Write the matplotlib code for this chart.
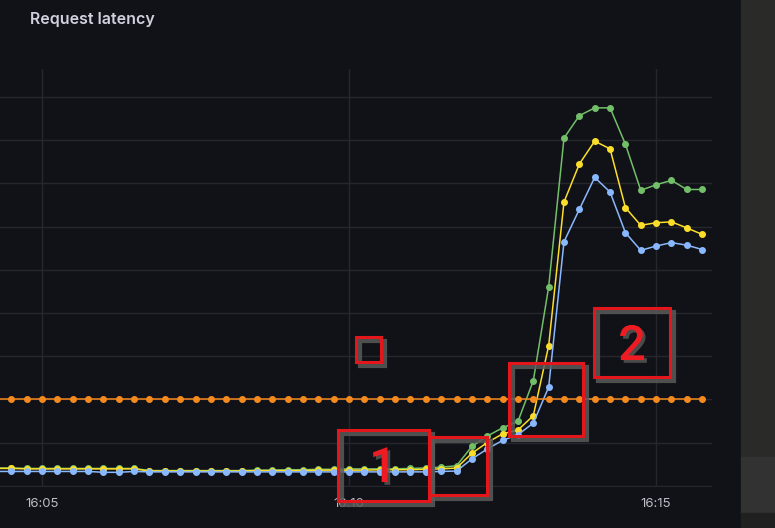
import matplotlib.pyplot as plt
from matplotlib.patches import Rectangle
import matplotlib.patheffects as pe
import numpy as np

# time in minutes after 16:00, one sample every 15 s (16:04:15 .. 16:15:45)
minutes = [4.25 + 0.25 * i for i in range(47)]

green = [0.41,
         0.41, 0.40, 0.40, 0.40, 0.40, 0.40, 0.40, 0.40, 0.40,
         0.35, 0.35, 0.35, 0.35, 0.35, 0.35, 0.35, 0.36, 0.36, 0.37, 0.37,
         0.38, 0.38, 0.39, 0.39, 0.39, 0.39, 0.40, 0.41, 0.43, 0.46,
         0.91, 1.15, 1.34, 1.49, 2.43, 4.60, 8.05, 8.57, 8.75, 8.75,
         7.91, 6.84, 6.97, 7.07, 6.86, 6.86]
yellow = [0.40,
          0.40, 0.39, 0.39, 0.39, 0.39, 0.39, 0.39, 0.39, 0.39,
          0.34, 0.34, 0.34, 0.34, 0.34, 0.34, 0.34, 0.35, 0.35, 0.35, 0.35,
          0.36, 0.36, 0.36, 0.36, 0.37, 0.37, 0.37, 0.38, 0.39, 0.41,
          0.75, 1.00, 1.20, 1.29, 1.62, 3.24, 6.57, 7.45, 7.98, 7.80,
          6.44, 6.03, 6.09, 6.11, 5.97, 5.82]
blue = [0.33,
        0.33, 0.33, 0.33, 0.33, 0.33, 0.33, 0.31, 0.31, 0.33,
        0.32, 0.32, 0.32, 0.32, 0.32, 0.32, 0.32, 0.32, 0.32, 0.32, 0.32,
        0.32, 0.32, 0.32, 0.32, 0.32, 0.32, 0.32, 0.32, 0.33, 0.34,
        0.62, 0.85, 1.05, 1.18, 1.45, 2.28, 5.65, 6.40, 7.14, 6.80,
        5.86, 5.45, 5.55, 5.63, 5.57, 5.47]
threshold = [2.0] * 47

tick_pos = [5, 10, 15]
tick_labels = ['16:05', '16:10', '16:15']

# screenshot annotations (pixel boxes: x0, y0, x1, y1 from top-left)
boxes = [(356, 337, 381, 362),
         (338, 430, 429, 501),
         (429, 437, 487, 495),
         (509, 363, 583, 436),
         (594, 308, 670, 377)]
labels = [('1', 383, 482), ('2', 632, 360)]

W, H = 775, 528
BG = '#111217'
GRID = '#26272c'

plt.rcParams['font.family'] = ['Inter', 'Roboto', 'DejaVu Sans']

fig = plt.figure(figsize=(W / 100, H / 100), dpi=100, facecolor=BG)


def fx(x):
    return x / W


def fy(y):
    return 1 - y / H


# right-hand neighbour panel
fig.patches.append(Rectangle((fx(741), fy(457)), fx(W - 741), 457 / H,
                             transform=fig.transFigure, color='#2a2a28', zorder=0))
fig.patches.append(Rectangle((fx(741), fy(513)), fx(W - 741), 56 / H,
                             transform=fig.transFigure, color='#323232', zorder=0))
fig.patches.append(Rectangle((fx(741), 0), fx(W - 741), 15 / H,
                             transform=fig.transFigure, color='#202020', zorder=0))

ax = fig.add_axes([0, fy(487), fx(712), (487 - 69) / H])
ax.set_facecolor(BG)

ax.plot(minutes, green, color='#73bf69', lw=1.1, marker='o', ms=4, zorder=3)
ax.plot(minutes, yellow, color='#fade2a', lw=1.1, marker='o', ms=4, zorder=4)
ax.plot(minutes, blue, color='#8ab8ff', lw=1.1, marker='o', ms=4, zorder=5)
ax.plot(minutes, threshold, color='#f58a1f', lw=1.1, marker='o', ms=4, zorder=6)

ax.set_xlim(4.316, 15.91)
ax.set_ylim(-0.03, 9.65)
ax.set_xticks(tick_pos)
ax.set_xticklabels(tick_labels)
ax.set_yticks(np.arange(0, 10, 1))
ax.tick_params(axis='x', length=0, pad=8, labelsize=9.5, labelcolor='#bcbdc6')
ax.tick_params(axis='y', length=0, labelleft=False)
ax.grid(True, color=GRID, lw=1)
ax.set_axisbelow(True)
for s in ax.spines.values():
    s.set_visible(False)

fig.text(fx(30), fy(24), 'Request latency', color='#d0d1dc', fontsize=11.5,
         fontweight='semibold', ha='left', va='baseline')

# red annotation boxes with a grey drop shadow
for x0, y0, x1, y1 in boxes:
    fig.patches.append(Rectangle((fx(x0 + 4), fy(y1 + 4)), fx(x1 - x0), (y1 - y0) / H,
                                 transform=fig.transFigure, fill=False,
                                 edgecolor='#5a5a5a', lw=3, alpha=0.85, zorder=20))
    fig.patches.append(Rectangle((fx(x0), fy(y1)), fx(x1 - x0), (y1 - y0) / H,
                                 transform=fig.transFigure, fill=False,
                                 edgecolor='#e3161c', lw=2.2, zorder=21))

shadow = [pe.withSimplePatchShadow(offset=(2, -2), shadow_rgbFace='#5a5a5a', alpha=0.8)]
for txt, x, y in labels:
    fig.text(fx(x), fy(y), txt, color='#ee1c22', fontsize=35, fontweight='medium',
             family='Roboto', ha='center', va='baseline', zorder=23,
             path_effects=shadow)

fig.savefig('out.png', dpi=100, facecolor=BG)
